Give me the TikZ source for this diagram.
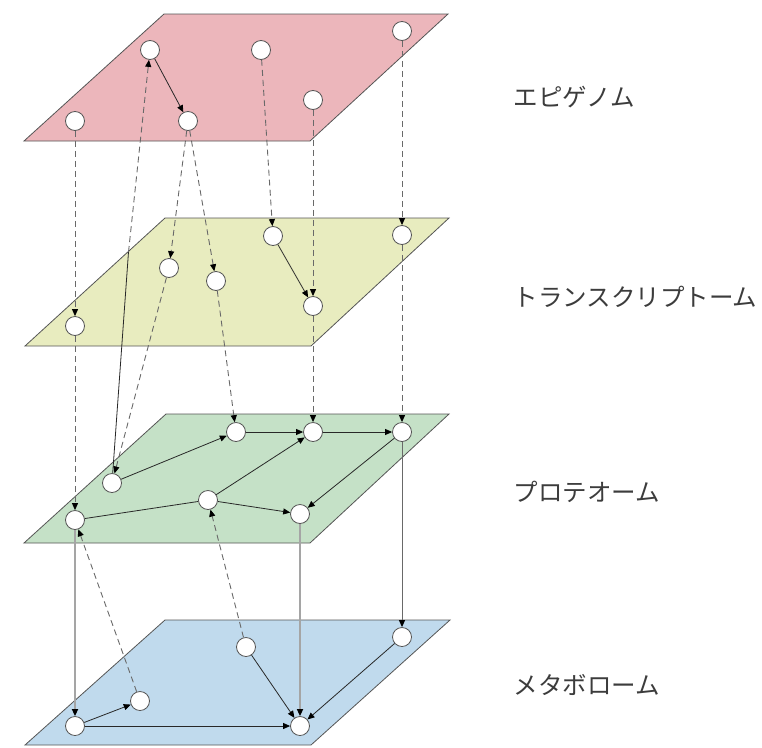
\documentclass[tikz,border=0pt]{standalone}
\usepackage{fontspec}
\newfontfamily\jpfont{Noto Sans CJK JP}
\usetikzlibrary{arrows.meta}
\definecolor{ink}{RGB}{40,40,40}
\definecolor{txt}{RGB}{60,60,60}
\definecolor{edge}{RGB}{85,85,85}
\definecolor{dashgrey}{RGB}{105,105,105}
\definecolor{flowgrey}{RGB}{165,165,165}
\definecolor{epi}{RGB}{236,182,187}
\definecolor{trans}{RGB}{232,236,191}
\definecolor{prot}{RGB}{197,225,199}
\definecolor{meta}{RGB}{192,218,237}

\begin{document}
\begin{tikzpicture}[
    x=1pt, y=-1pt,
    plane/.style={draw=edge, line width=0.8pt, line join=miter},
    mol/.style={circle, draw=edge, fill=white, line width=0.8pt,
                minimum size=19pt, inner sep=0pt},
    lbl/.style={font=\jpfont\fontsize{24.5}{28}\selectfont, text=txt, anchor=west},
    tip/.style={-{Triangle[length=7pt, width=6pt, color=black]}},
    link/.style={tip, draw=ink, line width=0.8pt},
    dep/.style={tip, draw=dashgrey, line width=0.9pt, dash pattern=on 6pt off 4pt},
    flow/.style={tip, draw=flowgrey, line width=1.6pt},
    flowd/.style={tip, draw=dashgrey, line width=1pt}
  ]
  \useasboundingbox (0,0) rectangle (762,747);

  % layers
  \filldraw[plane, fill=epi]   (164,14) -- (448,14) -- (310,141) -- (24,141) -- cycle;
  \filldraw[plane, fill=trans] (165,218) -- (449,218) -- (311,346) -- (25,346) -- cycle;
  \filldraw[plane, fill=prot]  (166,414) -- (449,414) -- (310,543) -- (24,543) -- cycle;
  \filldraw[plane, fill=meta]  (165,620) -- (450,620) -- (311,745) -- (25,745) -- cycle;

  \node[lbl] (lepi)   at (510,97)  {エピゲノム};
  \node[lbl] (ltrans) at (510,297) {トランスクリプトーム};
  \node[lbl] (lprot)  at (510,492) {プロテオーム};
  \node[lbl] (lmeta)  at (510,685) {メタボローム};

  % epigenome
  \node[mol] (e1) at (75,121) {};
  \node[mol] (e2) at (150,50) {};
  \node[mol] (e3) at (261,50) {};
  \node[mol] (e4) at (402,31) {};
  \node[mol] (e5) at (313,100) {};
  \node[mol] (e6) at (188,121) {};

  % transcriptome
  \node[mol] (t1) at (75,326) {};
  \node[mol] (t2) at (169,268) {};
  \node[mol] (t3) at (216,281) {};
  \node[mol] (t4) at (273,236) {};
  \node[mol] (t5) at (313,306) {};
  \node[mol] (t6) at (402,235) {};

  % proteome
  \node[mol] (p1) at (75,520) {};
  \node[mol] (p2) at (112,483) {};
  \node[mol] (p3) at (208,500) {};
  \node[mol] (p4) at (236,432) {};
  \node[mol] (p5) at (313,432) {};
  \node[mol] (p6) at (402,432) {};
  \node[mol] (p7) at (300,514) {};

  % metabolome
  \node[mol] (m1) at (75,726) {};
  \node[mol] (m2) at (140,701) {};
  \node[mol] (m3) at (246,647) {};
  \node[mol] (m4) at (300,726) {};
  \node[mol] (m5) at (402,637) {};

  % within layers
  \draw[link] (e2) -- (e6);
  \draw[link] (t4) -- (t5);
  \draw[link] (p2) -- (p4);
  \draw[link] (p4) -- (p5);
  \draw[link] (p5) -- (p6);
  \draw[link] (p3) -- (p5);
  \draw[link] (p3) -- (p7);
  \draw[link] (p6) -- (p7);
  \draw[link, -] (p1) -- (p3);
  \draw[link] (m1) -- (m2);
  \draw[link] (m1) -- (m4);
  \draw[link] (m3) -- (m4);
  \draw[link] (m5) -- (m4);

  % epigenome -> transcriptome
  \draw[dep] (e1) -- (t1);
  \draw[dep] (e6) -- (t2);
  \draw[dep] (e6) -- (t3);
  \draw[dep] (e3) -- (t4);
  \draw[dep] (e5) -- (t5);
  \draw[dep] (e4) -- (t6);

  % transcriptome -> proteome
  \draw[dep] (t1) -- (p1);
  \draw[dep] (t2) -- (p2);
  \draw[dep] (t3) -- (p4);
  \draw[dep] (t5) -- (p5);
  \draw[dep] (t6) -- (p6);

  % proteome back to epigenome
  \coordinate (cross) at (128.5,252);
  \draw[link, -] (p2) -- (cross);
  \draw[dep] (cross) -- (e2);

  % proteome -> metabolome
  \draw[flow] (p1) -- (m1);
  \draw[flow] (p7) -- (m4);
  \draw[flowd] (p6) -- (m5);

  % metabolome -> proteome
  \draw[dep] (m2) -- (p1);
  \draw[dep] (m3) -- (p3);
\end{tikzpicture}
\end{document}
